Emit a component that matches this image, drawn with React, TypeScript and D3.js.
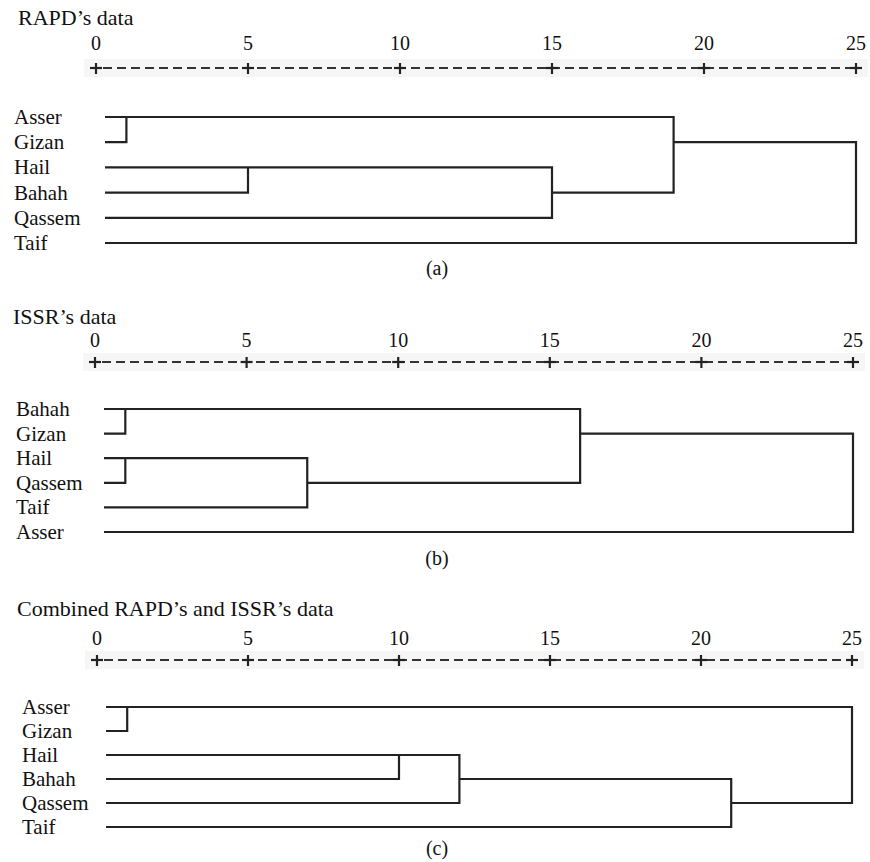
import { useEffect, useRef } from "react";
import * as d3 from "d3";

// axis ticks shared by the three dendrograms (rescaled distance)
const tickValues = [0, 5, 10, 15, 20, 25];

// (a) RAPD
const rapdTitle = "RAPD\u2019s data";
const rapdLeaves = ["Asser", "Gizan", "Hail", "Bahah", "Qassem", "Taif"];
// [childA, childB, distance]; leaves are 0..5, new clusters get 6, 7, ...
const rapdMerges: [number, number, number][] = [
    [0, 1, 1],
    [2, 3, 5],
    [7, 4, 15],
    [6, 8, 19],
    [9, 5, 25],
];

// (b) ISSR
const issrTitle = "ISSR\u2019s data";
const issrLeaves = ["Bahah", "Gizan", "Hail", "Qassem", "Taif", "Asser"];
const issrMerges: [number, number, number][] = [
    [0, 1, 1],
    [2, 3, 1],
    [7, 4, 7],
    [6, 8, 16],
    [9, 5, 25],
];

// (c) combined
const combTitle = "Combined RAPD\u2019s and ISSR\u2019s data";
const combLeaves = ["Asser", "Gizan", "Hail", "Bahah", "Qassem", "Taif"];
const combMerges: [number, number, number][] = [
    [0, 1, 1],
    [2, 3, 10],
    [7, 4, 12],
    [8, 5, 21],
    [6, 9, 25],
];

type Panel = {
    title: string;
    caption: string;
    leaves: string[];
    merges: [number, number, number][];
    // layout in px
    titleX: number;
    titleY: number;
    tickY: number;
    axisY: number;
    row0: number;
    rowStep: number;
    x0: number;
    x25: number;
    labelX: number;
    captionY: number;
};

const panels: Panel[] = [
    { title: rapdTitle, caption: "(a)", leaves: rapdLeaves, merges: rapdMerges,
      titleX: 18, titleY: 25, tickY: 50, axisY: 68, row0: 117, rowStep: 25.2,
      x0: 96, x25: 856, labelX: 14, captionY: 275 },
    { title: issrTitle, caption: "(b)", leaves: issrLeaves, merges: issrMerges,
      titleX: 13, titleY: 324, tickY: 347, axisY: 362, row0: 409, rowStep: 24.6,
      x0: 95, x25: 853, labelX: 16, captionY: 565 },
    { title: combTitle, caption: "(c)", leaves: combLeaves, merges: combMerges,
      titleX: 17, titleY: 616, tickY: 645, axisY: 660, row0: 707, rowStep: 24,
      x0: 97, x25: 852, labelX: 22, captionY: 855 },
];

const FONT = "Liberation Serif, Times New Roman, serif";
const INK = "#222";

function drawPanel(svg: d3.Selection<SVGSVGElement, unknown, null, undefined>, p: Panel) {
    const g = svg.append("g")
        .attr("font-family", FONT)
        .attr("fill", "#111");
    const x = d3.scaleLinear().domain([0, 25]).range([p.x0, p.x25]);
    const y = (row: number) => p.row0 + row * p.rowStep;

    g.append("text")
        .attr("x", p.titleX)
        .attr("y", p.titleY)
        .attr("font-family", FONT)
        .attr("font-size", 22)
        .text(p.title);

    // tick labels
    g.selectAll(".tick-label")
        .data(tickValues)
        .join("text")
        .attr("x", (d) => x(d))
        .attr("y", p.tickY)
        .attr("text-anchor", "middle")
        .attr("font-family", FONT)
        .attr("font-size", 20)
        .text((d) => d);

    // faint band behind the dashed axis (scan artefact)
    g.append("rect")
        .attr("x", x(0) - 12)
        .attr("y", p.axisY - 9)
        .attr("width", x(25) - x(0) + 24)
        .attr("height", 18)
        .attr("fill", "#f6f6f6");

    g.append("line")
        .attr("x1", x(0))
        .attr("x2", x(25))
        .attr("y1", p.axisY)
        .attr("y2", p.axisY)
        .attr("stroke", "#333")
        .attr("stroke-width", 2)
        .attr("stroke-dasharray", "9,5")
        .attr("stroke-dashoffset", -7);

    const plus = g.selectAll(".plus").data(tickValues).join("g")
        .attr("transform", (d) => `translate(${x(d)},${p.axisY})`);
    plus.append("line").attr("x1", -6).attr("x2", 6)
        .attr("stroke", INK).attr("stroke-width", 2.2);
    plus.append("line").attr("y1", -5).attr("y2", 6)
        .attr("stroke", INK).attr("stroke-width", 2.2);

    // leaf labels
    g.selectAll(".leaf")
        .data(p.leaves)
        .join("text")
        .attr("x", p.labelX)
        .attr("y", (_, i) => y(i))
        .attr("dy", "0.33em")
        .attr("font-family", FONT)
        .attr("font-size", 21)
        .text((d) => d);

    // nodes: row where the branch continues, and x where it starts
    const nodes: { row: number; start: number }[] = p.leaves.map((_, i) => ({
        row: i,
        start: x(0) + 9,
    }));

    const path = d3.path();
    p.merges.forEach(([a, b, h]) => {
        const na = nodes[a];
        const nb = nodes[b];
        const xm = x(h);
        path.moveTo(na.start, y(na.row));
        path.lineTo(xm, y(na.row));
        path.lineTo(xm, y(nb.row));
        path.lineTo(nb.start, y(nb.row));
        nodes.push({ row: Math.floor((na.row + nb.row) / 2), start: xm });
    });

    g.append("path")
        .attr("d", path.toString())
        .attr("fill", "none")
        .attr("stroke", INK)
        .attr("stroke-width", 2.2)
        .attr("stroke-linejoin", "miter");

    g.append("text")
        .attr("x", 437)
        .attr("y", p.captionY)
        .attr("text-anchor", "middle")
        .attr("font-family", FONT)
        .attr("font-size", 20)
        .text(p.caption);
}

export default function App() {
    const svgRef = useRef<SVGSVGElement | null>(null);
    const w = 870;
    const h = 862;

    useEffect(() => {
        const svg = d3.select(svgRef.current);
        svg.selectAll("*").remove();
        svg.append("rect").attr("width", w).attr("height", h).attr("fill", "#fff");
        panels.forEach((p) => drawPanel(svg as any, p));
    }, []);

    return (
        <svg
            ref={svgRef}
            width={w}
            height={h}
            style={{ position: "absolute", left: 0, top: 0 }}
        />
    );
}
